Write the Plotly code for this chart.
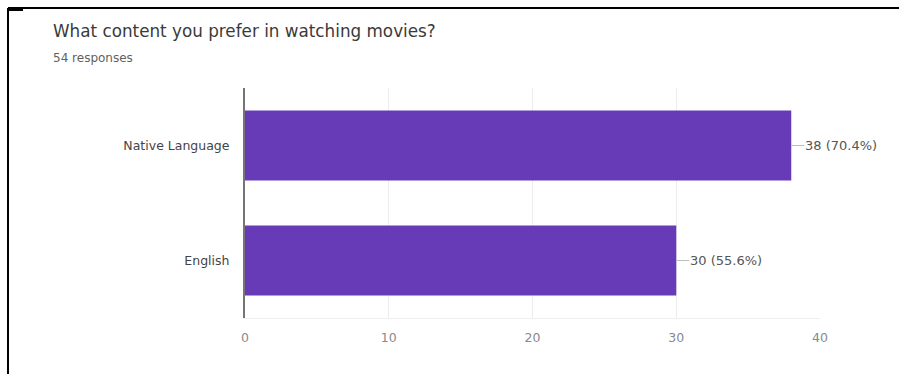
import plotly.graph_objects as go

categories = ["Native Language", "English"]
counts = [38, 30]
total_responses = 54
x_ticks = [0, 10, 20, 30, 40]
title_text = "What content you prefer in watching movies?"
subtitle_text = f"{total_responses} responses"

W, H = 899, 374
L, R, T, B = 245, 79, 88, 56
pw, ph = W - L - R, H - T - B

def px_x(px):
    return (px - L) / pw

def px_y(py):
    return (H - B - py) / ph

FONT = "DejaVu Sans"
BAR = "#673ab7"

fig = go.Figure()
fig.add_trace(go.Bar(
    x=counts, y=categories, orientation="h",
    marker=dict(color=BAR, line=dict(width=0)),
    hoverinfo="skip",
))

annotations = []
for c, v in zip(categories, counts):
    annotations.append(dict(
        x=v, y=c, xref="x", yref="y",
        text=f"{v} ({v / total_responses * 100:.1f}%)",
        showarrow=True, arrowhead=0, arrowwidth=1, arrowcolor="#bdbdbd",
        ax=13, ay=0, xanchor="left", yanchor="middle",
        font=dict(family=FONT, size=13, color="#555"),
        borderpad=0,
    ))
annotations.append(dict(
    x=px_x(51), y=px_y(31), xref="paper", yref="paper",
    text=title_text, showarrow=False, xanchor="left", yanchor="middle",
    font=dict(family=FONT, size=16.8, color="#3a3a3a"),
))
annotations.append(dict(
    x=px_x(51), y=px_y(58), xref="paper", yref="paper",
    text=subtitle_text, showarrow=False, xanchor="left", yanchor="middle",
    font=dict(family=FONT, size=12, color="#5f5f5f"),
))

shapes = [
    dict(type="line", xref="paper", yref="paper",
         x0=px_x(8), x1=px_x(899), y0=px_y(8), y1=px_y(8),
         line=dict(color="black", width=2)),
    dict(type="line", xref="paper", yref="paper",
         x0=px_x(8), x1=px_x(8), y0=px_y(8), y1=px_y(374),
         line=dict(color="black", width=2)),
    dict(type="line", xref="paper", yref="paper",
         x0=px_x(8), x1=px_x(23), y0=px_y(10), y1=px_y(10),
         line=dict(color="black", width=2)),
]

fig.update_layout(
    width=W, height=H,
    margin=dict(l=L, r=R, t=T, b=B, pad=0),
    paper_bgcolor="white", plot_bgcolor="white",
    showlegend=False,
    bargap=0.39,
    annotations=annotations,
    shapes=shapes,
    xaxis=dict(
        range=[0, 40], tickvals=x_ticks, ticktext=[str(t) for t in x_ticks],
        showgrid=True, gridcolor="#ececec", gridwidth=1,
        zeroline=False, showline=True, linecolor="#eeeeee", linewidth=1,
        ticks="", ticklabelstandoff=8,
        tickfont=dict(family=FONT, size=12.5, color="#8a8a8a"),
        fixedrange=True,
    ),
    yaxis=dict(
        autorange="reversed",
        showgrid=False, zeroline=False,
        showline=True, linecolor="#757575", linewidth=2,
        ticks="", ticklabelstandoff=11,
        tickfont=dict(family=FONT, size=12.5, color="#444"),
        fixedrange=True,
    ),
)

fig.write_html("out.html")
